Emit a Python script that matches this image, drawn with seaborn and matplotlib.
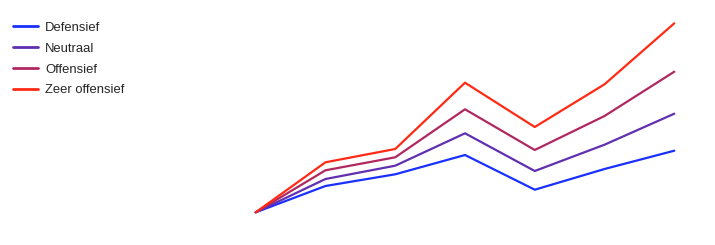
import matplotlib
matplotlib.use("Agg")
import matplotlib.pyplot as plt
import seaborn as sns
import pandas as pd

periods = [0, 1, 2, 3, 4, 5, 6]
series_names = ["Defensief", "Neutraal", "Offensief", "Zeer offensief"]
defensief = [0, 26.3, 38, 57.3, 22.6, 43.3, 61.6]
neutraal = [0, 33.3, 46.6, 79, 41.3, 67.6, 98.6]
offensief = [0, 42, 55, 103, 62.3, 96.3, 140.6]
zeer_offensief = [0, 50, 63.3, 129.6, 85.3, 128, 189]
colors = ["#1a30ff", "#6030b0", "#b02860", "#ff2a14"]

rows = []
for name, vals in zip(series_names, [defensief, neutraal, offensief, zeer_offensief]):
    for p, v in zip(periods, vals):
        rows.append({"periode": p, "waarde": v, "profiel": name})
df = pd.DataFrame(rows)

sns.set_theme(style="white")
plt.rcParams["font.family"] = ["Liberation Sans", "DejaVu Sans"]

fig = plt.figure(figsize=(7.15, 2.45), dpi=100)
ax = fig.add_axes([0, 0, 1, 1])
sns.lineplot(data=df, x="periode", y="waarde", hue="profiel",
             hue_order=series_names, palette=colors, linewidth=1.6,
             ax=ax, legend=False)

step = (674.3 - 255.7) / 6
ax.set_xlim(-255.7 / step, (715 - 255.7) / step)
ax.set_ylim(-(245 - 212.3), 212.3)
ax.axis("off")

handles = [plt.Line2D([], [], color=c, linewidth=2.0) for c in colors]
fig.legend(handles, series_names, loc="upper left",
           bbox_to_anchor=(9 / 715, 1 - 18 / 245), frameon=False,
           fontsize=9.4, handlelength=1.95, handletextpad=0.5,
           labelspacing=0.66, borderaxespad=0, borderpad=0.3)

fig.savefig("out.png", dpi=100, facecolor="white")
